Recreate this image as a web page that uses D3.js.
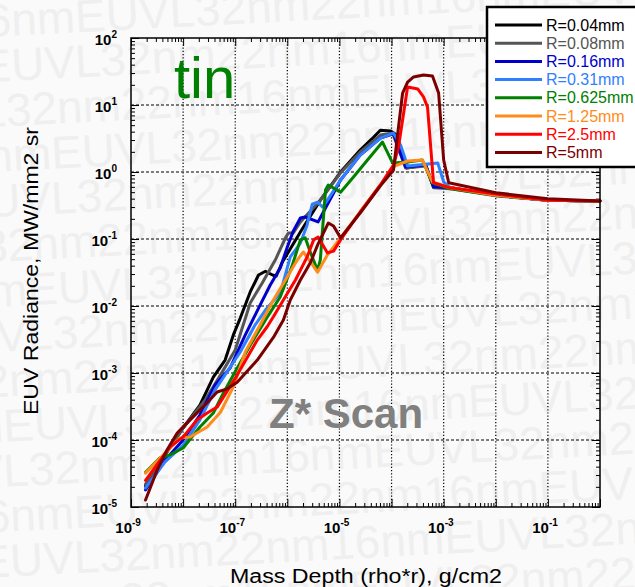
<!DOCTYPE html>
<html>
<head>
<meta charset="utf-8">
<script src="https://cdn.jsdelivr.net/npm/d3@7"></script>
<style>
  body { margin: 0; background: #fafafa; }
  text { font-family: "Liberation Sans", Arial, sans-serif; }
</style>
</head>
<body>
<svg id="chart" width="635" height="587"></svg>
<script>
// ---- data (mass depth g/cm2 -> EUV radiance MW/mm2 sr) ----
var seriesLabels = ["R=0.04mm", "R=0.08mm", "R=0.16mm", "R=0.31mm", "R=0.625mm", "R=1.25mm", "R=2.5mm", "R=5mm"];
var seriesColors = ["#000000", "#555555", "#0000cc", "#2f80ff", "#008000", "#ff8c1a", "#ff0000", "#7a0000"];

var x004 = [1.9e-9, 4.5e-9, 1e-8, 2.1e-8, 3.8e-8, 6.4e-8, 9.2e-8, 1.25e-7, 1.94e-7, 2.8e-7, 3.8e-7, 5.2e-7, 6.1e-7, 8.0e-7, 1.78e-6, 4.3e-6, 1.05e-5, 2.5e-5, 4.5e-5, 6.1e-5, 9.6e-5, 1.25e-4, 1.94e-4, 4.5e-4, 6.4e-4, 1.36e-3, 1e-2, 0.1, 1];
var y004 = [2.06e-5, 6.0e-5, 1.51e-4, 3.3e-4, 8.7e-4, 1.56e-3, 3.7e-3, 6.6e-3, 1.62e-2, 2.9e-2, 3.3e-2, 2.9e-2, 2.8e-2, 4.5e-2, 0.127, 0.38, 1.0, 2.13, 3.3, 4.2, 4.1, 3.56, 1.15, 1.27, 0.60, 0.58, 0.45, 0.38, 0.37];

var x008 = [1.9e-9, 4.5e-9, 1e-8, 2.65e-8, 5.2e-8, 1.0e-7, 1.94e-7, 3.3e-7, 5.9e-7, 9.2e-7, 1.05e-6, 1.3e-6, 1.78e-6, 4.3e-6, 1.05e-5, 2.5e-5, 6.1e-5, 1.05e-4, 1.86e-4, 4.5e-4, 6.4e-4, 1.36e-3, 1e-2, 0.1, 1];
var y008 = [2.2e-5, 6.0e-5, 1.51e-4, 3.95e-4, 9.3e-4, 2.2e-3, 1.11e-2, 2.2e-2, 4.9e-2, 0.104, 0.123, 0.123, 0.18, 0.38, 0.97, 1.99, 3.56, 3.8, 1.15, 1.23, 0.58, 0.56, 0.44, 0.38, 0.37];

var x016 = [1.9e-9, 4.5e-9, 1e-8, 2.1e-8, 4.1e-8, 8.0e-8, 1.56e-7, 3.0e-7, 4.7e-7, 7.3e-7, 1.0e-6, 1.3e-6, 1.78e-6, 2.2e-6, 3.9e-6, 5.4e-6, 1.05e-5, 2.5e-5, 6.1e-5, 1.09e-4, 1.86e-4, 4.5e-4, 6.4e-4, 1.36e-3, 1e-2, 0.1, 1];
var y016 = [1.8e-5, 5.0e-5, 1.0e-4, 2.36e-4, 6.6e-4, 1.19e-3, 3.7e-3, 1.03e-2, 2.06e-2, 3.7e-2, 7.6e-2, 0.131, 0.206, 0.213, 0.18, 0.29, 0.76, 1.79, 3.2, 3.7, 1.19, 1.27, 0.60, 0.58, 0.45, 0.38, 0.37];

var x031 = [1.9e-9, 4.5e-9, 1e-8, 2.1e-8, 4.1e-8, 1.25e-7, 2.4e-7, 3.8e-7, 7.3e-7, 1.14e-6, 1.78e-6, 2.4e-6, 3.0e-6, 3.8e-6, 4.7e-6, 5.9e-6, 1.05e-5, 2.5e-5, 6.1e-5, 1.09e-4, 1.49e-4, 2.03e-4, 7.7e-4, 1e-3, 1.36e-3, 1e-2, 0.1, 1];
var y031 = [1.92e-5, 4.7e-5, 8.4e-5, 2.0e-4, 5.6e-4, 2.06e-3, 5.2e-3, 8.7e-3, 1.56e-2, 5.4e-2, 8.7e-2, 0.162, 0.33, 0.356, 0.30, 0.38, 0.76, 1.79, 3.2, 3.8, 2.53, 1.23, 1.36, 0.71, 0.58, 0.45, 0.38, 0.37];

var x0625 = [1.9e-9, 3.6e-9, 5.6e-9, 1e-8, 2.1e-8, 3.8e-8, 5.9e-8, 1.04e-7, 1.94e-7, 3.8e-7, 7.3e-7, 1.25e-6, 1.78e-6, 2.2e-6, 2.8e-6, 3.8e-6, 4.3e-6, 5.4e-6, 6.1e-6, 1.05e-5, 1.86e-5, 3.45e-5, 6.7e-5, 1.05e-4, 2.03e-4, 3.9e-4, 6.1e-4, 1.36e-3, 1e-2, 0.1, 1];
var y0625 = [3.3e-5, 5.4e-5, 6.0e-5, 7.6e-5, 1.56e-4, 2.53e-4, 5.0e-4, 1.11e-3, 2.6e-3, 6.2e-3, 1.36e-2, 4.1e-2, 9.7e-2, 0.104, 6.2e-2, 3.4e-2, 4.9e-2, 0.54, 0.64, 0.50, 0.84, 1.51, 2.8, 1.36, 1.41, 1.51, 0.69, 0.56, 0.45, 0.38, 0.37];

var x125 = [1.9e-9, 2.65e-9, 6.4e-9, 8.7e-9, 1.36e-8, 2.9e-8, 5.2e-8, 9.2e-8, 1.56e-7, 3.0e-7, 5.4e-7, 9.2e-7, 1.56e-6, 2.03e-6, 2.8e-6, 3.8e-6, 5.9e-6, 1.05e-5, 2.5e-5, 6.1e-5, 1.05e-4, 2.03e-4, 3.9e-4, 6.1e-4, 1.36e-3, 1e-2, 0.1, 1];
var y125 = [3.2e-5, 4.2e-5, 8.4e-5, 1.07e-4, 1.11e-4, 1.56e-4, 2.6e-4, 6.2e-4, 2.06e-3, 5.2e-3, 1.23e-2, 2.44e-2, 4.9e-2, 6.4e-2, 4.5e-2, 3.2e-2, 5.8e-2, 0.104, 0.253, 0.64, 1.19, 1.46, 1.51, 0.71, 0.58, 0.45, 0.38, 0.37];

var x25 = [1.9e-9, 5.6e-9, 1e-8, 1.86e-8, 2.9e-8, 4.5e-8, 1.09e-7, 2.65e-7, 4.1e-7, 5.4e-7, 8.4e-7, 1.43e-6, 2.4e-6, 3.2e-6, 3.9e-6, 5.9e-6, 7.7e-6, 1.05e-5, 2.5e-5, 6.1e-5, 1.09e-4, 1.36e-4, 2.03e-4, 3.2e-4, 4.1e-4, 4.9e-4, 6.4e-4, 1.36e-3, 1e-2, 0.1, 1];
var y25 = [2.5e-5, 7.9e-5, 1.11e-4, 2.0e-4, 2.53e-4, 3.1e-4, 9.3e-4, 3.1e-3, 4.9e-3, 6.9e-3, 1.23e-2, 2.44e-2, 5.4e-2, 9.7e-2, 0.107, 6.2e-2, 6.6e-2, 9.7e-2, 0.253, 0.64, 1.27, 2.36, 18.6, 17.3, 13.2, 9.3, 0.69, 0.58, 0.47, 0.38, 0.37];

var x5 = [1.9e-9, 3.2e-9, 4.9e-9, 7.7e-9, 1.36e-8, 2.9e-8, 4.5e-8, 7.0e-8, 1.09e-7, 2.65e-7, 5.4e-7, 8.4e-7, 1.14e-6, 1.78e-6, 2.8e-6, 3.8e-6, 6.1e-6, 7.7e-6, 1.05e-5, 2.5e-5, 6.1e-5, 1.09e-4, 1.36e-4, 1.63e-4, 2.03e-4, 2.65e-4, 4.1e-4, 6.1e-4, 8.0e-4, 1e-3, 1.25e-3, 1e-2, 0.1, 1];
var y5 = [1.27e-5, 3.6e-5, 7.1e-5, 1.27e-4, 2.0e-4, 3.6e-4, 5.2e-4, 5.8e-4, 7.3e-4, 1.56e-3, 3.4e-3, 6.2e-3, 1.23e-2, 2.44e-2, 4.5e-2, 8.1e-2, 0.173, 0.156, 0.104, 0.244, 0.62, 1.07, 4.7, 15.1, 22, 26.2, 28.1, 27.1, 15.1, 1.51, 0.69, 0.49, 0.40, 0.37];

var xDecades = [1e-9, 1e-8, 1e-7, 1e-6, 1e-5, 1e-4, 1e-3, 1e-2, 1e-1, 1];
var yDecades = [1e-5, 1e-4, 1e-3, 1e-2, 1e-1, 1, 1e1, 1e2];
var xLabelExps = [-9, -7, -5, -3, -1];
var yLabelExps = [-5, -4, -3, -2, -1, 0, 1, 2];

var watermarkWord = "22nm16nmEUVL32nm";

// ---- layout ----
var width = 635, height = 587;
var plotLeft = 131, plotRight = 600, plotTop = 38, plotBottom = 507;

var svg = d3.select("#chart");

var xScale = d3.scaleLog().domain([1e-9, 1]).range([plotLeft, plotRight]);
var yScale = d3.scaleLog().domain([1e-5, 1e2]).range([plotBottom, plotTop]);

// faint background watermark
var wm = svg.append("g")
    .attr("transform", "rotate(-3, 320, 300)")
    .style("fill", "#efefef")
    .style("font-size", "46px");
var wmText = d3.range(6).map(function(){ return watermarkWord; }).join("");
d3.range(-1, 15).forEach(function(i){
    wm.append("text")
        .attr("x", -140 - (i * 97) % 260)
        .attr("y", 20 + i * 45)
        .text(wmText);
});

// minor tick values
function minors(decades){
    var out = [];
    decades.slice(0, -1).forEach(function(d){
        for (var k = 2; k <= 9; k++) out.push(d * k);
    });
    return out;
}
var xMinor = minors(xDecades), yMinor = minors(yDecades);

// grid
var grid = svg.append("g");
grid.selectAll("line.gx")
    .data(xDecades.slice(1, -1))
    .enter().append("line")
    .attr("x1", function(d){ return xScale(d); })
    .attr("x2", function(d){ return xScale(d); })
    .attr("y1", plotTop).attr("y2", plotBottom)
    .style("stroke", "#000").style("stroke-width", 1.2)
    .style("stroke-dasharray", "1.2,2");
grid.selectAll("line.gy")
    .data(yDecades.slice(1, -1))
    .enter().append("line")
    .attr("y1", function(d){ return yScale(d); })
    .attr("y2", function(d){ return yScale(d); })
    .attr("x1", plotLeft).attr("x2", plotRight)
    .style("stroke", "#000").style("stroke-width", 1)
    .style("stroke-dasharray", "3,2");

// ticks on all four sides, pointing inward
function tickAxis(axisFn, scale, values, size, transform){
    var g = svg.append("g")
        .attr("transform", transform)
        .call(axisFn(scale).tickValues(values).tickSizeInner(-size).tickSizeOuter(0).tickFormat(""));
    g.select(".domain").remove();
    g.selectAll("line").style("stroke", "#000").style("stroke-width", 1);
}
tickAxis(d3.axisBottom, xScale, xDecades, 8, "translate(0," + plotBottom + ")");
tickAxis(d3.axisBottom, xScale, xMinor, 4, "translate(0," + plotBottom + ")");
tickAxis(d3.axisTop, xScale, xDecades, 8, "translate(0," + plotTop + ")");
tickAxis(d3.axisTop, xScale, xMinor, 4, "translate(0," + plotTop + ")");
tickAxis(d3.axisLeft, yScale, yDecades, 8, "translate(" + plotLeft + ",0)");
tickAxis(d3.axisLeft, yScale, yMinor, 4, "translate(" + plotLeft + ",0)");
tickAxis(d3.axisRight, yScale, yDecades, 8, "translate(" + plotRight + ",0)");
tickAxis(d3.axisRight, yScale, yMinor, 4, "translate(" + plotRight + ",0)");

// tick labels
var xl = svg.append("g").style("font-weight", "bold").style("fill", "#000");
xLabelExps.forEach(function(e){
    var px = xScale(Math.pow(10, e));
    xl.append("text").attr("x", px + 1).attr("y", 533)
        .attr("text-anchor", "end").style("font-size", "15px").text("10");
    xl.append("text").attr("x", px + 1).attr("y", 526)
        .style("font-size", "10px").text(String(e));
});
var yl = svg.append("g").style("font-weight", "bold").style("fill", "#000");
yLabelExps.forEach(function(e){
    var py = yScale(Math.pow(10, e));
    var t = yl.append("text").attr("x", 117).attr("y", py + 7)
        .attr("text-anchor", "end").style("font-size", "15px");
    t.append("tspan").text("10");
    t.append("tspan").attr("dy", -7).style("font-size", "10px").text(String(e));
});

// axis titles (the original lettering is a little wider than the font)
svg.append("text")
    .attr("x", 366).attr("y", 583)
    .attr("text-anchor", "middle")
    .attr("textLength", 272).attr("lengthAdjust", "spacingAndGlyphs")
    .style("font-size", "20px").style("fill", "#000")
    .text("Mass Depth (rho*r), g/cm2");
svg.append("text")
    .attr("transform", "translate(38,271) rotate(-90)")
    .attr("text-anchor", "middle")
    .attr("textLength", 288).attr("lengthAdjust", "spacingAndGlyphs")
    .style("font-size", "20px").style("fill", "#000")
    .text("EUV Radiance, MW/mm2 sr");

// annotations
svg.append("text").attr("x", 174).attr("y", 98)
    .style("font-size", "58px").style("fill", "#008000").text("tin");
svg.append("text").attr("x", 269).attr("y", 428)
    .style("font-size", "42px").style("font-weight", "bold").style("fill", "#808080").text("Z* Scan");

// curves
var seriesX = [x004, x008, x016, x031, x0625, x125, x25, x5];
var seriesY = [y004, y008, y016, y031, y0625, y125, y25, y5];
var series = seriesLabels.map(function(name, i){
    return {
        name: name,
        color: seriesColors[i],
        values: seriesX[i].map(function(x, j){ return { x: x, y: seriesY[i][j] }; })
    };
});

var line = d3.line()
    .x(function(d){ return xScale(d.x); })
    .y(function(d){ return yScale(d.y); });

svg.append("g").selectAll("path")
    .data(series)
    .enter().append("path")
    .attr("d", function(d){ return line(d.values); })
    .style("fill", "none")
    .style("stroke", function(d){ return d.color; })
    .style("stroke-width", 3)
    .style("stroke-linejoin", "round")
    .style("stroke-linecap", "round");

// frame
svg.append("rect")
    .attr("x", plotLeft).attr("y", plotTop)
    .attr("width", plotRight - plotLeft).attr("height", plotBottom - plotTop)
    .style("fill", "none").style("stroke", "#000").style("stroke-width", 1.5);

// legend
var legend = svg.append("g");
legend.append("rect")
    .attr("x", 487).attr("y", 7).attr("width", 160).attr("height", 160)
    .style("fill", "#fff").style("stroke", "#000").style("stroke-width", 2.5);
var rows = legend.selectAll("g.row")
    .data(series)
    .enter().append("g")
    .attr("transform", function(d, i){ return "translate(0," + (25 + i * 18.2) + ")"; });
rows.append("line")
    .attr("x1", 495).attr("x2", 542)
    .style("stroke", function(d){ return d.color; })
    .style("stroke-width", 3);
rows.append("text")
    .attr("x", 546).attr("y", 5.5)
    .style("font-size", "16px")
    .style("fill", function(d){ return d.color; })
    .text(function(d){ return d.name; });
</script>
</body>
</html>
